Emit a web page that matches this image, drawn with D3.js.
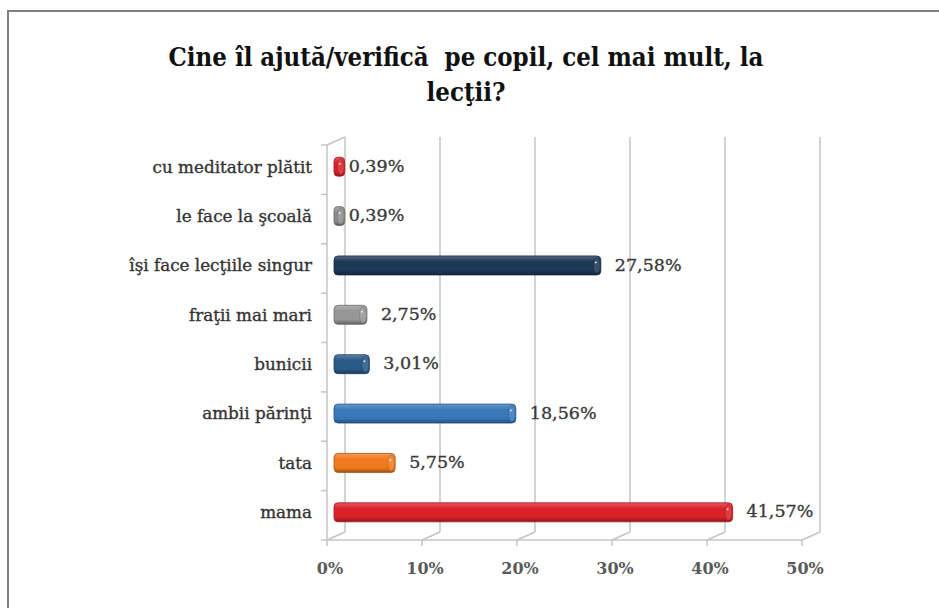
<!DOCTYPE html>
<html>
<head>
<meta charset="utf-8">
<script src="https://cdn.jsdelivr.net/npm/d3@7"></script>
<style>
  html, body { margin: 0; padding: 0; background: #fff; }
  svg { display: block; }
</style>
</head>
<body>
<svg id="chart" width="939" height="608"></svg>
<script>
// ---- data ----
const categories = ["cu meditator plătit", "le face la şcoală", "îşi face lecţiile singur", "fraţii mai mari", "bunicii", "ambii părinţi", "tata", "mama"];
const values = [0.39, 0.39, 27.58, 2.75, 3.01, 18.56, 5.75, 41.57];
const valueLabels = ["0,39%", "0,39%", "27,58%", "2,75%", "3,01%", "18,56%", "5,75%", "41,57%"];
const barColors = ["#dc2229", "#8e8e8e", "#1d3757", "#969696", "#2a5987", "#3878b8", "#f17a1f", "#dc2229"];
const tickValues = [0, 10, 20, 30, 40, 50];
const tickLabels = ["0%", "10%", "20%", "30%", "40%", "50%"];
const titleLines = ["Cine îl ajută/verifică  pe copil, cel mai mult, la", "lecţii?"];

// ---- layout ----
const svg = d3.select("#chart");
const depthX = 18, depthY = -8;
const floorY = 540, topY = 145;

const xFront = d3.scaleLinear().domain([0, 50]).range([327, 802]);
const xBack = v => xFront(v) + depthX;
const xBar = d3.scaleLinear().domain([0, 50]).range([341, 812]);
const y = d3.scaleBand().domain(categories).range([topY, floorY]);

// frame border
svg.append("path")
  .attr("d", "M8,608 L8,11 L939,11")
  .attr("fill", "none").attr("stroke", "#7f7f7f").attr("stroke-width", 2);

// title
const title = svg.append("text")
  .attr("x", 466).attr("y", 66)
  .attr("text-anchor", "middle")
  .attr("font-family", "'DejaVu Serif Condensed', 'DejaVu Serif', serif")
  .attr("font-stretch", "condensed")
  .attr("font-weight", "bold")
  .attr("font-size", 24)
  .attr("fill", "#111")
  .attr("xml:space", "preserve");
title.selectAll("tspan").data(titleLines).join("tspan")
  .attr("x", 466).attr("dy", (d, i) => i === 0 ? 0 : 35)
  .text(d => d);
const firstW = title.select("tspan").node().getComputedTextLength();
title.attr("font-size", 24 * 595 / firstW);

// walls / gridlines
const grid = svg.append("g").attr("stroke", "#c4c4c4").attr("stroke-width", 1.5).attr("fill", "none");
tickValues.forEach(t => {
  grid.append("line")
    .attr("x1", xBack(t)).attr("x2", xBack(t))
    .attr("y1", topY + depthY).attr("y2", floorY + depthY);
  grid.append("line")
    .attr("x1", xBack(t)).attr("y1", floorY + depthY)
    .attr("x2", xFront(t)).attr("y2", floorY);
});
grid.append("line").attr("x1", xFront(0)).attr("x2", xFront(0)).attr("y1", topY).attr("y2", floorY);
grid.append("line").attr("x1", xFront(0)).attr("y1", topY).attr("x2", xBack(0)).attr("y2", topY + depthY);
grid.append("line").attr("x1", xFront(0) - 6).attr("x2", xFront(50)).attr("y1", floorY).attr("y2", floorY);
categories.forEach(c => {
  grid.append("line").attr("x1", xFront(0) - 6).attr("x2", xFront(0)).attr("y1", y(c)).attr("y2", y(c));
});
tickValues.forEach(t => {
  grid.append("line").attr("x1", xFront(t)).attr("x2", xFront(t)).attr("y1", floorY).attr("y2", floorY + 6);
});

// axis labels
svg.append("g").selectAll("text").data(tickValues).join("text")
  .attr("x", d => xFront(d) + 3).attr("y", 574)
  .attr("text-anchor", "middle")
  .attr("font-family", "'DejaVu Serif', serif")
  .attr("font-weight", "bold")
  .attr("font-size", 16)
  .attr("fill", "#5a5a5a")
  .text((d, i) => tickLabels[i]);

// category labels
svg.append("g").selectAll("text").data(categories).join("text")
  .attr("x", 312)
  .attr("y", d => y(d) + y.bandwidth() / 2 - 3)
  .attr("dy", "0.35em")
  .attr("text-anchor", "end")
  .attr("font-family", "'DejaVu Serif', serif")
  .attr("font-size", 16.8)
  .attr("fill", "#333")
  .attr("stroke", "#333").attr("stroke-width", 0.35)
  .text(d => d);

// gradients for cylinder shading
const defs = svg.append("defs");
barColors.forEach((c, i) => {
  const g = defs.append("linearGradient").attr("id", "g" + i)
    .attr("x1", 0).attr("y1", 0).attr("x2", 0).attr("y2", 1);
  g.append("stop").attr("offset", "0%").attr("stop-color", d3.interpolateRgb(c, "#fff")(0.25));
  g.append("stop").attr("offset", "30%").attr("stop-color", c);
  g.append("stop").attr("offset", "75%").attr("stop-color", c);
  g.append("stop").attr("offset", "100%").attr("stop-color", d3.interpolateRgb(c, "#000")(0.35));
});

// bars
const barH = 19;
const bars = svg.append("g");
categories.forEach((c, i) => {
  const cy = y(c) + y.bandwidth() / 2 - 3;
  const x0 = xBar(0) - 7, x1 = xBar(values[i]);
  bars.append("rect")
    .attr("x", x0).attr("y", cy - barH / 2)
    .attr("width", Math.max(x1 - x0, 6)).attr("height", barH)
    .attr("rx", 4).attr("ry", 4)
    .attr("fill", `url(#g${i})`)
    .attr("stroke", d3.interpolateRgb(barColors[i], "#000")(0.3))
    .attr("stroke-width", 0.8);
  bars.append("ellipse")
    .attr("cx", x1 - 4).attr("cy", cy)
    .attr("rx", 3.5).attr("ry", barH / 2 - 1.5)
    .attr("fill", d3.interpolateRgb(barColors[i], "#fff")(0.12))
    .attr("stroke", d3.interpolateRgb(barColors[i], "#000")(0.2))
    .attr("stroke-width", 0.6);
  bars.append("circle")
    .attr("cx", x1 - 5).attr("cy", cy - 3).attr("r", 1)
    .attr("fill", "#ffffff").attr("opacity", 0.8);
  svg.append("text")
    .attr("x", x1 + (values[i] < 1 ? 4 : 14))
    .attr("y", cy - 1)
    .attr("dy", "0.35em")
    .attr("font-family", "'DejaVu Serif', serif")
    .attr("font-size", 17.5)
    .attr("fill", "#3a3a3a")
    .attr("stroke", "#3a3a3a").attr("stroke-width", 0.35)
    .text(valueLabels[i]);
});
</script>
</body>
</html>
